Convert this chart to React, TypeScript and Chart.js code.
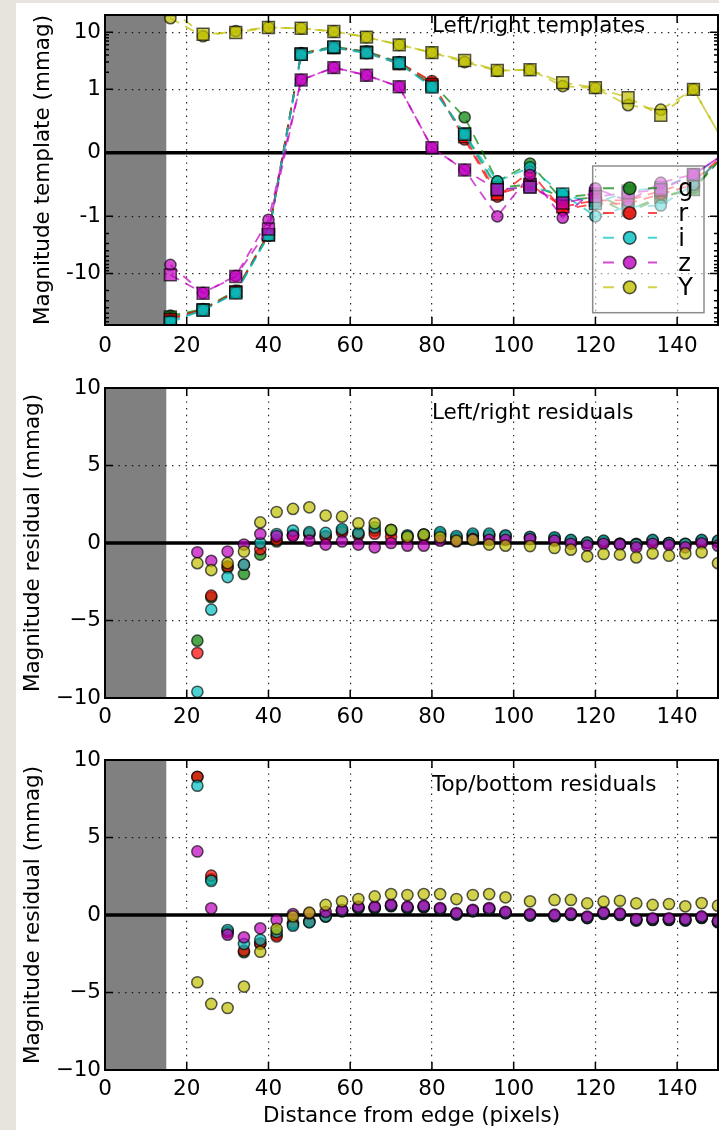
import React, { useEffect, useRef } from 'react';
import { Chart, registerables, LinearScale } from 'chart.js';

Chart.register(...registerables);

// ---------------- data ----------------
const BANDS = ['g', 'r', 'i', 'z', 'Y'];
const X_TICKS = [0, 20, 40, 60, 80, 100, 120, 140];
const TOP_Y_TICKS = [-10, -1, 0, 1, 10];
const TOP_Y_MINOR = [-80, -70, -60, -50, -40, -30, -20, -9, -8, -7, -6, -5, -4, -3, -2, 2, 3, 4, 5, 6, 7, 8, 9, 20];
const RES_Y_TICKS = [-10, -5, 0, 5, 10];
const MASK_RANGE = [0, 15];

// Top panel: left/right templates (circles = left, squares = right)
const X_TOP = [16, 24, 32, 40, 48, 56, 64, 72, 80, 88, 96, 104, 112, 120, 128, 136, 144, 152];
const TOP_LEFT_G = [-55, -42, -20, -2.0, 4.3, 5.6, 4.6, 3.0, 1.3, 0.56, -0.45, -0.17, -0.75, -0.7, -0.95, -0.7, -0.55, 0.0];
const TOP_RIGHT_G = [-58, -43, -21, -2.1, 4.2, 5.4, 4.5, 2.9, 1.15, 0.3, -0.55, -0.5, -0.7, -0.65, -0.9, -0.7, -0.58, 0.0];
const TOP_LEFT_R = [-62, -43, -21, -2.0, 4.2, 5.4, 4.5, 2.9, 1.4, 0.21, -0.69, -0.3, -0.9, -0.8, -0.8, -0.65, -0.5, 0.0];
const TOP_RIGHT_R = [-64, -44, -21, -2.1, 4.1, 5.4, 4.4, 2.8, 1.2, 0.25, -0.65, -0.5, -0.85, -0.75, -0.75, -0.6, -0.45, 0.0];
const TOP_LEFT_I = [-68, -44, -22, -2.2, 4.0, 5.3, 4.3, 2.8, 1.1, 0.29, -0.45, -0.23, -0.65, -1.0, -0.85, -0.83, -0.5, 0.0];
const TOP_RIGHT_I = [-72, -44, -22, -2.1, 4.1, 5.5, 4.4, 2.9, 1.1, 0.29, -0.58, -0.54, -0.65, -0.8, -0.6, -0.55, -0.35, 0.0];
const TOP_LEFT_Z = [-7.1, -22, -11, -1.15, 1.46, 2.4, 1.76, 1.11, 0.08, -0.27, -1.0, -0.35, -1.06, -0.56, -0.76, -0.47, -0.34, 0.0];
const TOP_RIGHT_Z = [-10.6, -22.2, -11.3, -1.67, 1.46, 2.4, 1.76, 1.11, 0.08, -0.27, -0.58, -0.54, -0.79, -0.69, -0.63, -0.58, -0.34, 0.0];
const TOP_LEFT_Y = [17.6, 8.5, 10.5, 12.1, 11.7, 10.3, 8.2, 6.0, 4.4, 3.0, 2.1, 2.2, 1.14, 1.05, 0.75, 0.68, 1.0, 0.1];
const TOP_RIGHT_Y = [25, 9.2, 9.9, 12.1, 11.7, 10.3, 8.2, 6.0, 4.4, 3.2, 2.15, 2.2, 1.31, 1.07, 0.87, 0.59, 1.0, 0.1];

// Middle & bottom panels: residuals
const X_RES = [22.6, 26, 30, 34, 38, 42, 46, 50, 54, 58, 62, 66, 70, 74, 78, 82, 86, 90, 94, 98, 104, 110, 114, 118, 122, 126, 130, 134, 138, 142, 146, 150];

const LR_G = [-6.3, -3.5, -1.6, -2.0, -0.75, 0.1, 0.55, 0.6, 0.45, 0.8, 0.6, 0.8, 0.75, 0.45, 0.55, 0.6, 0.35, 0.5, 0.5, 0.45, 0.35, 0.3, 0.15, 0.0, 0.1, -0.05, -0.05, 0.15, 0.0, -0.05, 0.15, 0.1];
const LR_R = [-7.1, -3.4, -1.5, -1.4, -0.4, 0.2, 0.5, 0.6, 0.4, 0.7, 0.5, 0.6, 0.4, 0.3, 0.4, 0.5, 0.3, 0.45, 0.45, 0.4, 0.3, 0.25, 0.1, 0.0, 0.05, -0.05, -0.1, 0.1, 0.0, -0.1, 0.1, 0.05];
const LR_I = [-9.6, -4.3, -2.2, -1.4, 0.0, 0.58, 0.8, 0.7, 0.65, 0.9, 0.65, 1.0, 0.85, 0.5, 0.55, 0.7, 0.45, 0.6, 0.6, 0.5, 0.4, 0.37, 0.2, 0.04, 0.15, -0.06, -0.1, 0.2, 0.0, -0.05, 0.2, 0.15];
const LR_Z = [-0.6, -1.15, -0.55, -0.1, 0.58, 0.45, 0.45, 0.15, -0.1, 0.1, -0.1, -0.28, 0.0, -0.17, -0.17, 0.15, 0.1, 0.26, 0.2, 0.2, 0.25, 0.15, -0.05, -0.17, -0.05, -0.1, -0.28, -0.05, -0.13, -0.28, -0.02, -0.17];
const LR_Y = [-1.3, -1.75, -1.3, -0.55, 1.33, 2.0, 2.2, 2.3, 1.77, 1.7, 1.27, 1.27, 0.84, 0.4, 0.54, 0.37, 0.15, 0.2, -0.1, -0.17, -0.2, -0.32, -0.43, -0.86, -0.71, -0.75, -0.93, -0.67, -0.82, -0.67, -0.6, -1.3];

const TB_G = [8.9, 2.3, -1.1, -2.4, -1.87, -1.27, -0.6, -0.45, -0.1, 0.24, 0.44, 0.44, 0.57, 0.44, 0.5, 0.35, 0.03, 0.24, 0.35, 0.11, -0.04, -0.08, 0.0, -0.2, 0.07, 0.0, -0.36, -0.32, -0.32, -0.36, -0.19, -0.47];
const TB_R = [8.92, 2.54, -1.1, -2.3, -1.83, -1.38, -0.5, -0.4, -0.05, 0.29, 0.49, 0.49, 0.62, 0.49, 0.55, 0.4, 0.08, 0.29, 0.4, 0.16, 0.01, -0.03, 0.05, -0.15, 0.12, 0.05, -0.31, -0.27, -0.27, -0.31, -0.14, -0.42];
const TB_I = [8.34, 2.2, -0.97, -1.87, -1.6, -1.1, -0.69, -0.47, -0.09, 0.26, 0.46, 0.46, 0.59, 0.46, 0.52, 0.37, 0.05, 0.26, 0.37, 0.13, -0.02, -0.06, 0.02, -0.18, 0.09, 0.02, -0.34, -0.3, -0.3, -0.34, -0.17, -0.45];
const TB_Z = [4.1, 0.43, -1.27, -1.44, -0.86, -0.32, 0.06, 0.1, 0.2, 0.34, 0.54, 0.54, 0.67, 0.54, 0.6, 0.45, 0.13, 0.34, 0.45, 0.21, 0.06, 0.02, 0.1, -0.1, 0.17, 0.1, -0.26, -0.22, -0.22, -0.26, -0.09, -0.37];
const TB_Y = [-4.34, -5.74, -6.0, -4.62, -2.37, -0.9, -0.09, 0.15, 0.65, 0.88, 1.03, 1.2, 1.35, 1.29, 1.35, 1.35, 1.03, 1.29, 1.35, 1.14, 0.88, 0.97, 0.97, 0.75, 0.86, 0.92, 0.75, 0.65, 0.71, 0.56, 0.77, 0.6];

const TOP_LEFT = [TOP_LEFT_G, TOP_LEFT_R, TOP_LEFT_I, TOP_LEFT_Z, TOP_LEFT_Y];
const TOP_RIGHT = [TOP_RIGHT_G, TOP_RIGHT_R, TOP_RIGHT_I, TOP_RIGHT_Z, TOP_RIGHT_Y];
const LR_ALL = [LR_G, LR_R, LR_I, LR_Z, LR_Y];
const TB_ALL = [TB_G, TB_R, TB_I, TB_Z, TB_Y];

// ---------------- styles ----------------
const BAND_RGB = [[0, 128, 0], [255, 0, 0], [0, 191, 191], [191, 0, 191], [191, 191, 0]];
const FONT_FAMILY = '"DejaVu Sans", sans-serif';
const FONT_SIZE = 21.5;

const rgba = (c: number[], a: number) => `rgba(${c[0]},${c[1]},${c[2]},${a})`;
const pts = (xs: number[], ys: number[]) => xs.map((x, i) => ({ x, y: ys[i] }));

// ---------------- symlog scale ----------------
const LINSCALE_ADJ = 1 / (1 - 1 / 10);
function symF(v: number) {
  const a = Math.abs(v);
  return a <= 1 ? v * LINSCALE_ADJ : Math.sign(v) * (LINSCALE_ADJ + Math.log10(a));
}
function symInv(t: number) {
  const a = Math.abs(t);
  return a <= LINSCALE_ADJ ? t / LINSCALE_ADJ : Math.sign(t) * Math.pow(10, a - LINSCALE_ADJ);
}

class SymlogScale extends (LinearScale as any) {
  static id = 'symlog';
  static defaults = (LinearScale as any).defaults;
  buildTicks() {
    (this as any).start = (this as any).min;
    (this as any).end = (this as any).max;
    return TOP_Y_TICKS.map((v) => ({ value: v }));
  }
  configure() {
    super.configure();
    (this as any)._fMin = symF((this as any).min);
    (this as any)._fMax = symF((this as any).max);
  }
  getPixelForValue(v: number) {
    const s = this as any;
    return s.getPixelForDecimal((symF(v) - s._fMin) / (s._fMax - s._fMin));
  }
  getValueForPixel(p: number) {
    const s = this as any;
    return symInv(s._fMin + s.getDecimalForPixel(p) * (s._fMax - s._fMin));
  }
}
Chart.register(SymlogScale as any);

// ---------------- decoration plugin ----------------
const panelDeco = {
  id: 'panelDeco',
  beforeDraw(chart: any) {
    const { ctx, chartArea: a, scales } = chart;
    const x = scales.x;
    ctx.save();
    ctx.fillStyle = '#808080';
    const x0 = x.getPixelForValue(MASK_RANGE[0]);
    const x1 = x.getPixelForValue(MASK_RANGE[1]);
    ctx.fillRect(x0, a.top, x1 - x0, a.bottom - a.top);
    ctx.restore();
  },
  beforeDatasetsDraw(chart: any) {
    const { ctx, chartArea: a, scales } = chart;
    const y0 = scales.y.getPixelForValue(0);
    ctx.save();
    ctx.strokeStyle = '#000';
    ctx.lineWidth = 3.5;
    ctx.beginPath();
    ctx.moveTo(a.left, y0);
    ctx.lineTo(a.right, y0);
    ctx.stroke();
    ctx.restore();
  },
  afterDatasetsDraw(chart: any, _a: any, o: any) {
    const { ctx, chartArea: a, scales } = chart;
    const x = scales.x, y = scales.y;
    ctx.save();
    // label
    ctx.fillStyle = '#000';
    ctx.font = `${FONT_SIZE}px ${FONT_FAMILY}`;
    ctx.textAlign = 'left';
    ctx.textBaseline = 'alphabetic';
    ctx.fillText(o.label, x.getPixelForValue(o.labelX), y.getPixelForValue(o.labelY));

    // legend
    if (o.legend) {
      const bx = a.right - 125.3, by = a.top + 151, bw = 111.3, bh = 146.7;
      ctx.fillStyle = 'rgba(255,255,255,0.5)';
      ctx.fillRect(bx, by, bw, bh);
      ctx.strokeStyle = 'rgba(0,0,0,0.45)';
      ctx.lineWidth = 1.5;
      ctx.strokeRect(bx, by, bw, bh);
      BANDS.forEach((name, k) => {
        const c = BAND_RGB[k];
        const ry = by + 22.3 + k * 24.75;
        ctx.strokeStyle = rgba(c, 0.7);
        ctx.lineWidth = 2;
        ctx.setLineDash([11, 34]);
        ctx.beginPath();
        ctx.moveTo(bx + 10.3, ry);
        ctx.lineTo(bx + 64.3, ry);
        ctx.stroke();
        ctx.setLineDash([]);
        ctx.beginPath();
        ctx.arc(bx + 37, ry, 6.3, 0, Math.PI * 2);
        ctx.fillStyle = rgba(c, 0.8);
        ctx.fill();
        ctx.strokeStyle = 'rgba(0,0,0,0.65)';
        ctx.lineWidth = 1.6;
        ctx.stroke();
        ctx.fillStyle = '#000';
        ctx.font = `24px ${FONT_FAMILY}`;
        ctx.textBaseline = 'alphabetic';
        ctx.fillText(name, bx + 85.6, ry + 8);
      });
    }

    // inward ticks
    ctx.strokeStyle = '#000';
    ctx.lineWidth = 1.5;
    ctx.beginPath();
    X_TICKS.forEach((v) => {
      const px = x.getPixelForValue(v);
      ctx.moveTo(px, a.bottom);
      ctx.lineTo(px, a.bottom - 8);
      ctx.moveTo(px, a.top);
      ctx.lineTo(px, a.top + 8);
    });
    (o.yTicks as number[]).forEach((v) => {
      const py = y.getPixelForValue(v);
      ctx.moveTo(a.left, py);
      ctx.lineTo(a.left + 8, py);
      ctx.moveTo(a.right, py);
      ctx.lineTo(a.right - 8, py);
    });
    (o.yMinor as number[]).forEach((v) => {
      const py = y.getPixelForValue(v);
      ctx.moveTo(a.left, py);
      ctx.lineTo(a.left + 4, py);
      ctx.moveTo(a.right, py);
      ctx.lineTo(a.right - 4, py);
    });
    ctx.stroke();

    // frame
    ctx.lineWidth = 2;
    ctx.strokeRect(a.left, a.top, a.right - a.left, a.bottom - a.top);
    ctx.restore();
  },
};

// ---------------- config builder ----------------
type PanelCfg = {
  kind: 'top' | 'lr' | 'tb';
  padTop: number;
  xAxisH: number;
  xTickPad: number;
  yTitle: string;
  yTitlePad: number;
  xTitle?: string;
  label: string;
};

function buildDatasets(kind: string) {
  if (kind === 'top') {
    const ds: any[] = [];
    BANDS.forEach((_b, k) => {
      const c = BAND_RGB[k];
      const common = {
        showLine: true,
        borderColor: rgba(c, 0.7),
        borderWidth: 1.8,
        borderDash: [10, 7],
        pointBackgroundColor: rgba(c, 0.7),
        pointBorderColor: 'rgba(0,0,0,0.65)',
        pointBorderWidth: 1.5,
        tension: 0,
      };
      ds.push({ ...common, label: BANDS[k], data: pts(X_TOP, TOP_LEFT[k]), pointStyle: 'circle', pointRadius: 5.6 });
      ds.push({ ...common, label: BANDS[k] + ' right', data: pts(X_TOP, TOP_RIGHT[k]), pointStyle: 'rect', pointRadius: 8.4 });
    });
    // later datasets drawn on top
    ds.forEach((d, i) => (d.order = 100 - i));
    return ds;
  }
  const src = kind === 'lr' ? LR_ALL : TB_ALL;
  return BANDS.map((b, k) => ({
    label: b,
    order: 100 - k,
    data: pts(X_RES, src[k]),
    showLine: false,
    pointStyle: 'circle',
    pointRadius: 5.6,
    pointBackgroundColor: rgba(BAND_RGB[k], 0.7),
    pointBorderColor: 'rgba(0,0,0,0.65)',
    pointBorderWidth: 1.5,
  }));
}

function buildConfig(cfg: PanelCfg): any {
  const font = { family: FONT_FAMILY, size: FONT_SIZE };
  const isTop = cfg.kind === 'top';
  const yScale: any = isTop
    ? {
        type: 'symlog',
        min: -80,
        max: 20,
        ticks: { callback: (v: number) => String(v) },
      }
    : {
        type: 'linear',
        min: -10,
        max: 10,
        afterBuildTicks: (s: any) => {
          s.ticks = RES_Y_TICKS.map((v) => ({ value: v }));
        },
        ticks: { callback: (v: number) => (v < 0 ? '\u2212' + Math.abs(v) : String(v)) },
      };
  Object.assign(yScale, {
    position: 'left',
    afterFit: (s: any) => {
      s.width = 89;
      s.paddingTop = 0;
      s.paddingBottom = 0;
    },
    grid: { color: 'rgba(0,0,0,0.85)', lineWidth: 1.2, drawTicks: false },
    border: { display: false, dash: [1.4, 5.3] },
    title: { display: true, text: cfg.yTitle, font, color: '#000', padding: { top: cfg.yTitlePad, bottom: 0 } },
  });
  yScale.ticks = { ...yScale.ticks, font, color: '#000', padding: 4, autoSkip: false };

  return {
    type: 'scatter',
    data: { datasets: buildDatasets(cfg.kind) },
    options: {
      animation: false,
      responsive: false,
      events: [],
      layout: { autoPadding: false, padding: { left: 0, right: 1, top: cfg.padTop, bottom: 0 } },
      plugins: {
        legend: { display: false },
        tooltip: { enabled: false },
        panelDeco: {
          label: cfg.label,
          labelX: 80,
          labelY: isTop ? 10 : 8,
          legend: isTop,
          yTicks: isTop ? TOP_Y_TICKS : RES_Y_TICKS,
          yMinor: isTop ? TOP_Y_MINOR : [],
        },
      },
      scales: {
        x: {
          type: 'linear',
          position: 'bottom',
          min: 0,
          max: 150,
          afterBuildTicks: (s: any) => {
            s.ticks = X_TICKS.map((v) => ({ value: v }));
          },
          afterFit: (s: any) => {
            s.height = cfg.xAxisH;
            s.paddingLeft = 0;
            s.paddingRight = 0;
          },
          ticks: { font, color: '#000', padding: cfg.xTickPad, maxRotation: 0, autoSkip: false, callback: (v: number) => String(v) },
          grid: { color: 'rgba(0,0,0,0.85)', lineWidth: 1.2, drawTicks: false },
          border: { display: false, dash: [1.4, 5.3] },
          title: cfg.xTitle
            ? { display: true, text: cfg.xTitle, font, color: '#000', padding: { top: 0, bottom: 1 } }
            : { display: false },
        },
        y: yScale,
      },
    },
    plugins: [panelDeco],
  };
}

function Panel({ cfg, top, height }: { cfg: PanelCfg; top: number; height: number }) {
  const ref = useRef<HTMLCanvasElement>(null);
  useEffect(() => {
    const chart = new Chart(ref.current as HTMLCanvasElement, buildConfig(cfg));
    return () => chart.destroy();
  }, []);
  return (
    <canvas
      ref={ref}
      width={703}
      height={height}
      style={{ position: 'absolute', left: 16, top, width: 703, height, display: 'block' }}
    />
  );
}

const PANELS: { cfg: PanelCfg; top: number; height: number }[] = [
  {
    top: 3,
    height: 362,
    cfg: { kind: 'top', padTop: 12, xAxisH: 40, xTickPad: 8.5, yTitle: 'Magnitude template (mmag)', yTitlePad: 15, label: 'Left/right templates' },
  },
  {
    top: 365,
    height: 365,
    cfg: { kind: 'lr', padTop: 23, xAxisH: 32, xTickPad: 6.5, yTitle: 'Magnitude residual (mmag)', yTitlePad: 5, label: 'Left/right residuals' },
  },
  {
    top: 730,
    height: 400,
    cfg: {
      kind: 'tb',
      padTop: 30,
      xAxisH: 60,
      xTickPad: 6.5,
      yTitle: 'Magnitude residual (mmag)',
      yTitlePad: 5,
      xTitle: 'Distance from edge (pixels)',
      label: 'Top/bottom residuals',
    },
  },
];

export default function App() {
  return (
    <div style={{ position: 'absolute', left: 0, top: 0, width: 719, height: 1130, background: '#e7e3dd', overflow: 'hidden' }}>
      <div style={{ position: 'absolute', left: 16, top: 3, width: 703, height: 1127, background: '#ffffff' }} />
      {PANELS.map((p, i) => (
        <Panel key={i} cfg={p.cfg} top={p.top} height={p.height} />
      ))}
    </div>
  );
}
